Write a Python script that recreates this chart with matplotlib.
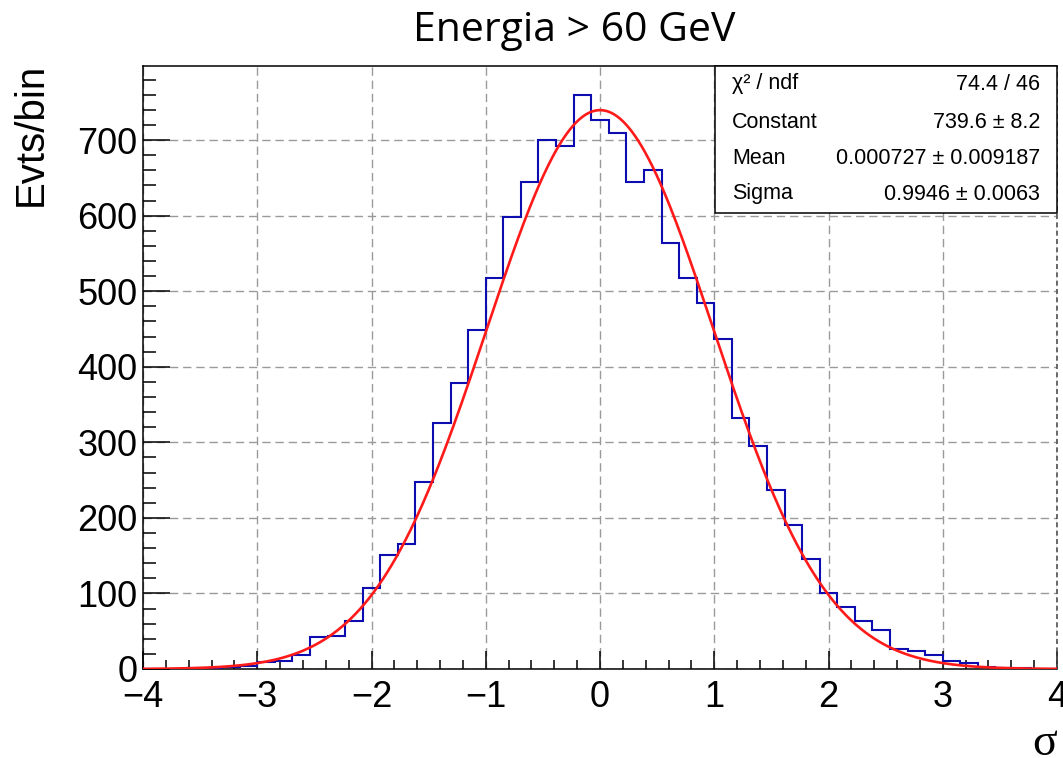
import numpy as np
import matplotlib
matplotlib.use("Agg")
import matplotlib.pyplot as plt
from matplotlib.patches import Rectangle
from matplotlib.ticker import MultipleLocator

# histogram of the pull, bins of width 2/13 centred on k*width, k = -26..26
bin_index = np.arange(-26, 27)
counts = [0, 0, 0, 1, 1, 2, 4, 9, 10, 18, 42, 44, 64, 107, 151, 165, 247, 325,
          378, 448, 518, 598, 644, 700, 692, 760, 726, 709, 644, 661, 564, 518,
          485, 437, 332, 295, 237, 191, 145, 101, 82, 63, 51, 27, 24, 18, 10, 8,
          2, 1, 1, 0, 0]
bin_width = 2.0 / 13.0

# gaussian fit results
fit_chi2, fit_ndf = 74.4, 46
fit_const, fit_const_err = 739.6, 8.2
fit_mean, fit_mean_err = 0.000727, 0.009187
fit_sigma, fit_sigma_err = 0.9946, 0.0063

title = "Energia > 60 GeV"
ylabel = "Evts/bin"
xlabel = "σ"

edges = (np.append(bin_index, bin_index[-1] + 1) - 0.5) * bin_width

fig = plt.figure(figsize=(10.63, 7.58), dpi=100)
ax = fig.add_axes([143 / 1063, 1 - 669 / 758, 914 / 1063, 603 / 758])

ax.stairs(counts, edges, color="#0c0cb0", lw=1.5, zorder=3)

xf = np.linspace(-4, 4, 800)
yf = fit_const * np.exp(-0.5 * ((xf - fit_mean) / fit_sigma) ** 2)
ax.plot(xf, yf, color="#ff1a1a", lw=1.9, zorder=4)

ax.set_xlim(-4, 4)
ax.set_ylim(0, 1.05 * max(counts))

ax.xaxis.set_major_locator(MultipleLocator(1))
ax.xaxis.set_minor_locator(MultipleLocator(0.2))
ax.yaxis.set_major_locator(MultipleLocator(100))
ax.yaxis.set_minor_locator(MultipleLocator(20))
ax.grid(True, which="major", color="#9a9a9a", lw=1.0, ls=(0, (6, 3.5)), zorder=1)

ax.tick_params(axis="both", which="both", direction="in", width=1.1,
               top=False, right=False, labelsize=26,
               labelfontfamily="Liberation Sans")
ax.tick_params(axis="y", which="major", length=19.5, pad=4)
ax.tick_params(axis="y", which="minor", length=9.7)
ax.tick_params(axis="x", which="major", length=13, pad=8)
ax.tick_params(axis="x", which="minor", length=6.5)
for sp in ax.spines.values():
    sp.set_linewidth(1.1)
# no frame on the right, only the dashed grid line at the axis end
ax.spines["right"].set_visible(False)
ax.axvline(4, color="#505050", lw=1.2, ls=(0, (3, 2)), clip_on=False, zorder=2)

# stat box
bx0, by0 = (715 - 143) / 914, (669 - 213) / 603
ax.add_patch(Rectangle((bx0, by0), 1 - bx0, 1 - by0, transform=ax.transAxes,
                       facecolor="white", edgecolor="black", lw=1.1, zorder=10,
                       clip_on=False))
rows = [
    ("χ² / ndf", f"{fit_chi2:.1f} / {fit_ndf}"),
    ("Constant", f"{fit_const:.1f} ± {fit_const_err:.1f}"),
    ("Mean", f"{fit_mean:.6f} ± {fit_mean_err:.6f}"),
    ("Sigma", f"{fit_sigma:.4f} ± {fit_sigma_err:.4f}"),
]
row_y = [84, 122, 159, 194]
for (name, val), py in zip(rows, row_y):
    yy = (669 - py) / 603
    ax.text((732 - 143) / 914, yy, name, transform=ax.transAxes, ha="left",
            va="center", fontsize=15.5, family="Liberation Sans", zorder=11)
    ax.text((1040 - 143) / 914, yy, val, transform=ax.transAxes, ha="right",
            va="center", fontsize=15.5, family="Liberation Sans", zorder=11)

fig.text(31 / 1063, 1 - 63 / 758, ylabel, rotation=90, ha="center", va="top",
         fontsize=29, family="Liberation Sans")
fig.text(1057 / 1063, 1 - 744 / 758, xlabel, ha="right", va="center",
         fontsize=33, family="Liberation Serif")
fig.text(574 / 1063, 1 - 31 / 758, title, ha="center", va="center",
         fontsize=29.5, family="Open Sans")

fig.savefig("out.png", dpi=100)
